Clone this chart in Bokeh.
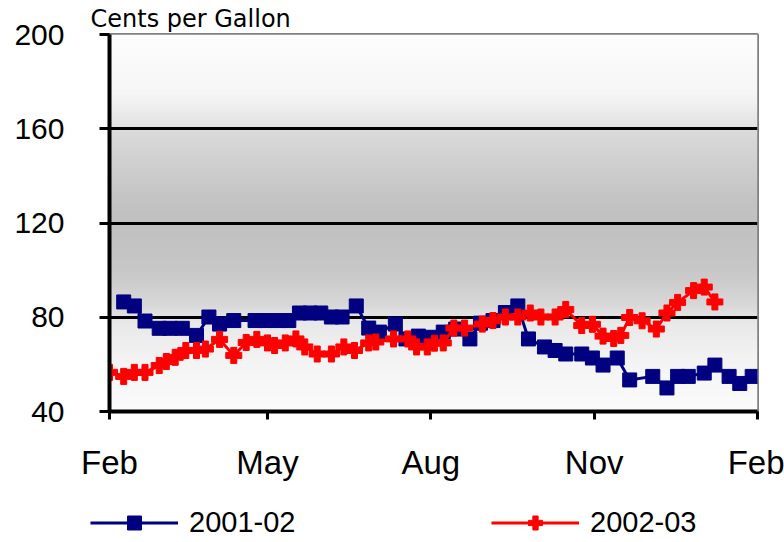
import numpy as np
from bokeh.plotting import figure
from bokeh.layouts import column
from bokeh.models import FixedTicker, Legend, LegendItem
from bokeh.embed import file_html
from bokeh.resources import INLINE

# ---- data (days since Feb 1; cents per gallon) ----
blue_label = "2001-02"
blue_days = [8, 14, 20, 28, 34, 41, 49, 56, 62, 70, 82, 88, 95, 101, 107, 113, 119,
             125, 131, 139, 146, 152, 161, 167, 174, 181, 188, 195, 203, 209, 216,
             223, 230, 236, 245, 251, 257, 266, 272, 278, 286, 293, 306, 314, 320,
             326, 335, 341, 349, 355, 362]
blue_vals = [86.5, 84.8, 78.4, 75.3, 75.3, 75.3, 72.3, 80.1, 77.1, 78.6, 78.6, 78.6,
             78.6, 78.6, 81.8, 81.8, 81.8, 80.1, 80.1, 84.8, 75.4, 73.7, 77.1, 70.8,
             72.0, 71.5, 73.7, 75.0, 70.8, 77.5, 78.6, 82.0, 84.8, 70.8, 67.4, 65.9,
             64.4, 64.4, 62.7, 59.7, 62.7, 53.4, 54.9, 50.0, 54.9, 54.9, 56.3, 59.7,
             54.9, 51.9, 54.9]

red_label = "2002-03"
red_days = [0, 8, 14, 20, 28, 32, 37, 43, 49, 54, 62, 70, 77, 83, 89, 93, 99, 105,
            110, 117, 125, 132, 138, 146, 150, 160, 168, 173, 179, 183, 188, 194,
            200, 210, 216, 223, 230, 237, 243, 251, 257, 266, 272, 278, 284, 288,
            293, 300, 308, 314, 320, 329, 335, 341]
red_vals = [56.6, 54.9, 56.6, 56.6, 59.5, 61.2, 63.0, 65.9, 65.9, 66.5, 70.6, 63.8,
            69.3, 70.6, 69.1, 68.0, 69.1, 70.8, 67.4, 64.4, 64.4, 67.4, 65.9, 69.1,
            69.5, 70.8, 70.8, 67.4, 67.4, 69.0, 69.1, 75.4, 75.4, 77.1, 78.6, 80.1,
            80.1, 81.8, 80.1, 80.1, 83.3, 76.5, 77.0, 72.0, 71.0, 72.3, 79.9, 78.5,
            75.0, 81.8, 86.3, 91.3, 92.8, 86.5]

x_ticks = [0, 89, 181, 273, 365]
x_tick_labels = ["Feb", "May", "Aug", "Nov", "Feb"]
y_ticks = [40, 80, 120, 160, 200]
grid_ticks = [80, 120, 160]
y_title = "Cents per Gallon"

BLUE = "#000080"
RED = "#FF0000"
X0, X1 = 0, 365
Y0, Y1 = 40, 200

p = figure(width=784, height=492, x_range=(X0, X1), y_range=(Y0, Y1),
           output_backend="svg", toolbar_location=None,
           min_border_left=109, min_border_right=27,
           min_border_top=34, min_border_bottom=81)
p.frame_align = False
p.background_fill_color = "white"
p.border_fill_color = "white"
p.outline_line_color = "#808080"
p.outline_line_width = 3

# title (upper-left, above the frame)
p.title.text = y_title
p.title.align = "left"
p.title.offset = -19
p.title.standoff = 3
p.title.text_font = "DejaVu Sans"
p.title.text_font_size = "24px"
p.title.text_font_style = "normal"
p.title.text_color = "black"

# vertical gray gradient background
n = 400
vs = np.linspace(Y0, Y1, n)
g = np.interp(vs, [40, 60, 78, 85, 100, 119, 130, 142, 159, 161, 175, 200],
              [251, 244, 232, 216, 199, 192, 195, 205, 218, 226, 246, 253])
img = np.empty((n, 1), dtype=np.uint32)
view = img.view(dtype=np.uint8).reshape((n, 1, 4))
gi = np.round(g).astype(np.uint8)
view[:, 0, 0] = gi
view[:, 0, 1] = gi
view[:, 0, 2] = gi
view[:, 0, 3] = 255
p.image_rgba(image=[img], x=X0, y=Y0, dw=X1 - X0, dh=Y1 - Y0, level="image")

# axes
p.xaxis.ticker = FixedTicker(ticks=x_ticks)
p.xaxis.major_label_overrides = {t: l for t, l in zip(x_ticks, x_tick_labels)}
p.xaxis.axis_line_width = 4
p.xaxis.axis_line_color = "black"
p.xaxis.major_tick_line_width = 3
p.xaxis.major_tick_out = 8
p.xaxis.major_tick_in = 0
p.xaxis.minor_tick_line_color = None
p.xaxis.major_label_text_font = "Liberation Sans"
p.xaxis.major_label_text_font_size = "33px"
p.xaxis.major_label_text_color = "black"
p.xaxis.major_label_standoff = 24

p.yaxis.ticker = FixedTicker(ticks=y_ticks)
p.yaxis.axis_line_width = 4
p.yaxis.axis_line_color = "black"
p.yaxis.major_tick_line_width = 3
p.yaxis.major_tick_out = 10
p.yaxis.major_tick_in = 0
p.yaxis.minor_tick_line_color = None
p.yaxis.major_label_text_font = "Liberation Sans"
p.yaxis.major_label_text_font_size = "30px"
p.yaxis.major_label_text_color = "black"
p.yaxis.major_label_standoff = 35

p.xgrid.visible = False
p.ygrid.ticker = FixedTicker(ticks=grid_ticks)
p.ygrid.grid_line_color = "black"
p.ygrid.grid_line_width = 3

# series
p.line(blue_days, blue_vals, line_color=BLUE, line_width=3)
p.scatter(blue_days, blue_vals, marker="square", size=14,
          fill_color=BLUE, line_color=BLUE)
p.line(red_days, red_vals, line_color=RED, line_width=3)
p.scatter(red_days, red_vals, marker="plus", size=16,
          fill_color=RED, line_color=RED)

# ---- legend strip beneath the chart ----
LW, LH = 784, 50
lf = figure(width=LW, height=LH, x_range=(0, LW), y_range=(0, LH),
            output_backend="svg", toolbar_location=None,
            x_axis_type=None, y_axis_type=None,
            min_border_left=0, min_border_right=0,
            min_border_top=0, min_border_bottom=0)
lf.frame_align = False
lf.outline_line_color = None
lf.xgrid.visible = False
lf.ygrid.visible = False
lf.background_fill_color = "white"
lf.border_fill_color = "white"

# legend-key renderers (one placeholder point each, never visible)
nan = [float("nan")]
kl = lf.line(nan, nan, line_color=BLUE, line_width=3)
ks = lf.scatter(nan, nan, marker="square", size=14, fill_color=BLUE, line_color=BLUE)
rl = lf.line(nan, nan, line_color=RED, line_width=3)
rs = lf.scatter(nan, nan, marker="plus", size=16, fill_color=RED, line_color=RED)

def make_legend(label, rends, loc):
    return Legend(items=[LegendItem(label=label, renderers=rends, index=0)], location=loc,
                  orientation="horizontal", glyph_width=88, glyph_height=35,
                  label_standoff=11, padding=0, margin=0, spacing=0,
                  border_line_color=None, background_fill_alpha=0,
                  label_text_font="Liberation Sans", label_text_font_size="29px",
                  label_text_color="black")

lf.add_layout(make_legend(blue_label, [kl, ks], (90, 2)))
lf.add_layout(make_legend(red_label, [rl, rs], (491, 2)))

layout = column(p, lf, spacing=0)
open("out.html", "w").write(file_html(layout, INLINE))
